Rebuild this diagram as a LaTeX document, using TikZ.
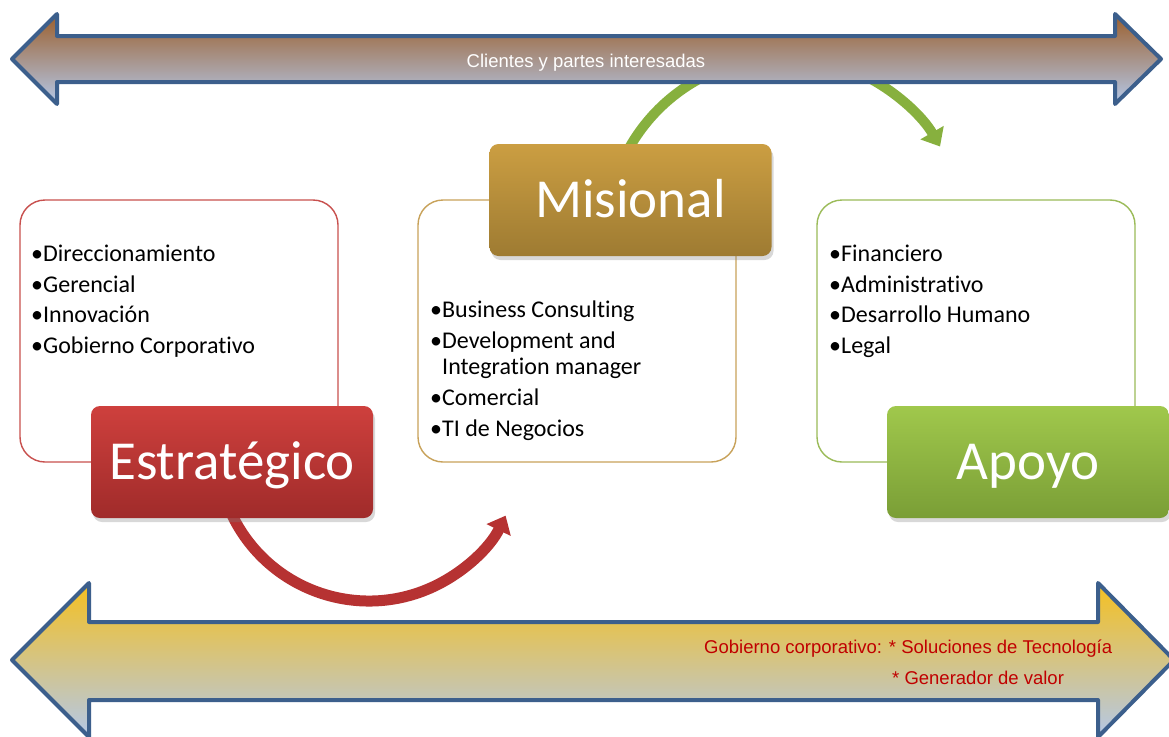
\documentclass[tikz,border=0pt]{standalone}
\usepackage{fontspec}
\setmainfont{Carlito}[Ligatures=NoCommon]
\newfontfamily\arialfont{Liberation Sans}
\usetikzlibrary{arrows.meta,shadows}

\definecolor{frame}{RGB}{60,95,140}
\definecolor{brownTop}{RGB}{155,95,45}
\definecolor{brownMid}{RGB}{168,152,148}
\definecolor{blueBot}{RGB}{180,200,232}
\definecolor{goldTop}{RGB}{245,192,32}
\definecolor{goldMid}{RGB}{205,198,160}
\definecolor{redA}{RGB}{206,64,61}
\definecolor{redB}{RGB}{160,43,42}
\definecolor{goldA}{RGB}{203,158,66}
\definecolor{goldB}{RGB}{158,123,50}
\definecolor{greenA}{RGB}{160,200,76}
\definecolor{greenB}{RGB}{122,158,54}
\definecolor{redLine}{RGB}{200,80,78}
\definecolor{goldLine}{RGB}{200,162,90}
\definecolor{greenLine}{RGB}{155,187,89}
\definecolor{noteRed}{RGB}{192,0,0}
\definecolor{redArc}{RGB}{182,50,50}
\definecolor{greenArc}{RGB}{135,176,62}

\newcommand\itembullet{\makebox[12pt][l]{\textbullet}}

\begin{document}
\begin{tikzpicture}[x=1pt,y=-1pt,
  band/.style={draw=frame, line width=4pt, line join=round},
  listbox/.style={draw, line width=1.4pt, rounded corners=25pt, fill=white,
    minimum width=318pt, minimum height=262pt, inner sep=0pt},
  titlebox/.style={rounded corners=9pt, minimum width=282pt, minimum height=112pt,
    inner sep=0pt, text=white, font=\fontsize{55}{60}\selectfont,
    text height=40pt, text depth=6pt,
    drop shadow={shadow xshift=2pt, shadow yshift=-4pt, opacity=0.3}},
  item/.style={anchor=base west, inner sep=0pt, font=\fontsize{24}{28}\selectfont},
  flow/.style={line width=11pt, -{Triangle[width=26pt,length=16pt]}},
  note/.style={inner sep=0pt, font=\arialfont\fontsize{18.5}{22}\selectfont}
]
\useasboundingbox (0,0) rectangle (1169,736);
\fill[white] (0,0) rectangle (1169,736);

% curved flow arrows (behind the bands and title boxes)
\coordinate (gc) at (785,236);
\draw[flow, draw=greenArc, line width=10pt]
  (gc) ++(-152:179) arc[start angle=-152, end angle=-30, radius=179];
\coordinate (rc) at (369,449);
\draw[flow, draw=redArc]
  (rc) ++(155:152) arc[start angle=155, end angle=26, radius=152];

% top double arrow
\path[band, top color=brownTop, middle color=brownMid, bottom color=blueBot]
  (12,59) -- (57,14) -- (57,36) -- (1115,36) -- (1115,14) -- (1161,59)
  -- (1115,104) -- (1115,82) -- (57,82) -- (57,104) -- cycle;
\node[note, text=white, anchor=base] (clients) at (586,67) {Clientes y partes interesadas};

% bottom double arrow
\path[band, top color=goldTop, middle color=goldMid, bottom color=blueBot]
  (12,660) -- (89,583) -- (89,622) -- (1098,622) -- (1098,583) -- (1174,660)
  -- (1098,737) -- (1098,700) -- (89,700) -- (89,737) -- cycle;
\node[note, text=noteRed, anchor=base west] (gob) at (704,653)
  {Gobierno corporativo: * Soluciones de Tecnología};
\node[note, text=noteRed, anchor=base west] (gen) at (892,684) {* Generador de valor};

% content boxes
\node[listbox, draw=redLine] (lbox) at (179,331) {};
\node[listbox, draw=goldLine] (mbox) at (577,331) {};
\node[listbox, draw=greenLine] (rbox) at (976,331) {};

% title boxes
\node[titlebox, top color=redA, bottom color=redB] (estr) at (232,462) {Estratégico};
\node[titlebox, top color=goldA, bottom color=goldB] (mis) at (630.5,200) {Misional};
\node[titlebox, top color=greenA, bottom color=greenB] (apo) at (1028,462) {Apoyo};

% list items
\node[item] (l1) at (31,261) {\itembullet Direccionamiento};
\node[item] (l2) at (31,292) {\itembullet Gerencial};
\node[item] (l3) at (31,322) {\itembullet Innovación};
\node[item] (l4) at (31,353) {\itembullet Gobierno Corporativo};

\node[item] (m1) at (430,317) {\itembullet Business Consulting};
\node[item] (m2) at (430,348) {\itembullet Development and};
\node[item] (m2b) at (442,374) {Integration manager};
\node[item] (m3) at (430,405) {\itembullet Comercial};
\node[item] (m4) at (430,436) {\itembullet TI de Negocios};

\node[item] (r1) at (829,261) {\itembullet Financiero};
\node[item] (r2) at (829,292) {\itembullet Administrativo};
\node[item] (r3) at (829,322) {\itembullet Desarrollo Humano};
\node[item] (r4) at (829,353) {\itembullet Legal};
\end{tikzpicture}
\end{document}
